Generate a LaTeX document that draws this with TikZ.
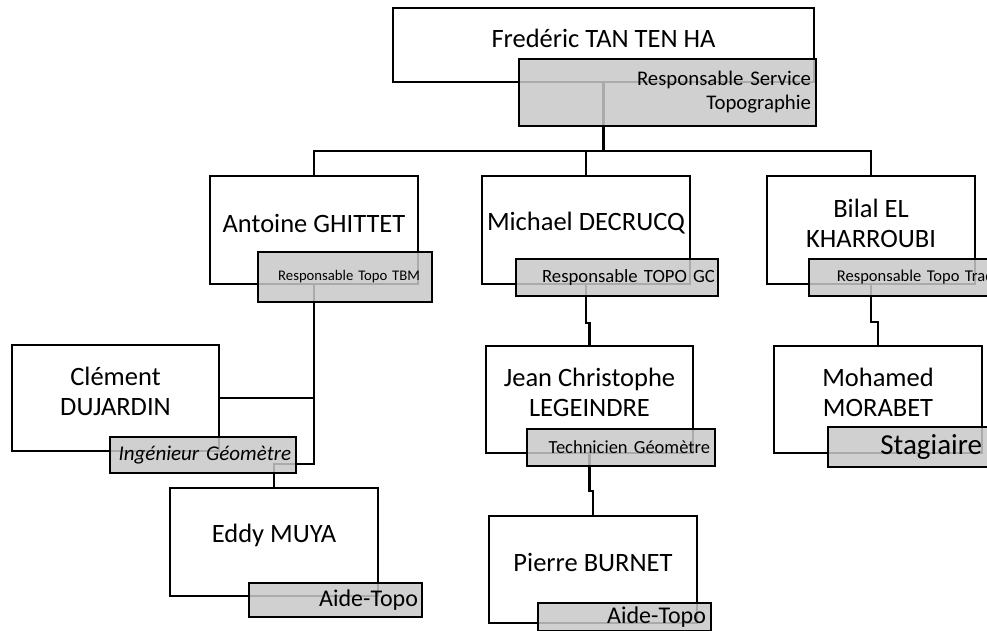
\documentclass[tikz,border=0pt]{standalone}
\usepackage{fontspec}
\setmainfont{Carlito}
\usetikzlibrary{positioning}
\definecolor{rolegrey}{RGB}{200,200,200}

\begin{document}
\begin{tikzpicture}[x=1pt, y=-1pt,
    namebox/.style={rectangle, draw, line width=2.2pt, minimum width=208pt, minimum height=108pt},
    nametext/.style={align=center, yshift=7pt, font=\fontsize{26.5}{30}\selectfont},
    rolebox/.style={rectangle, draw, line width=2.2pt, fill=rolegrey, fill opacity=0.85, text opacity=1, align=right, inner xsep=5pt, inner ysep=0pt},
    link/.style={line width=2.2pt}]
    \useasboundingbox (0,0) rectangle (987,630);
    \clip (0,0) rectangle (987,630);

    % name boxes
    \node [namebox, minimum width=421pt, minimum height=74pt, label={[name=fred-t, nametext]center:Fredéric TAN TEN HA}] (fred) at (603.5,45) {};
    \node [namebox, label={[name=antoine-t, nametext]center:Antoine GHITTET}] (antoine) at (314,230) {};
    \node [namebox, label={[name=michael-t, nametext]center:Michael DECRUCQ}] (michael) at (586,230) {};
    \node [namebox, label={[name=bilal-t, nametext]center:Bilal EL\\KHARROUBI}] (bilal) at (871,230) {};
    \node [namebox, minimum width=207pt, minimum height=106pt, label={[name=clement-t, nametext]center:Clément\\DUJARDIN}] (clement) at (115.5,398) {};
    \node [namebox, label={[name=eddy-t, nametext]center:Eddy MUYA}] (eddy) at (274,542) {};
    \node [namebox, minimum width=207pt, minimum height=107pt, label={[name=jean-t, nametext]center:Jean Christophe\\LEGEINDRE}] (jean) at (589.5,399.5) {};
    \node [namebox, minimum height=107pt, label={[name=pierre-t, nametext]center:Pierre BURNET}] (pierre) at (593,569.5) {};
    \node [namebox, minimum height=107pt, label={[name=mohamed-t, nametext]center:Mohamed\\MORABET}] (mohamed) at (878,399.5) {};

    % links
    \coordinate (bus) at (603.5,151);
    \draw[link] (fred.south) -- (bus);
    \draw[link] (antoine.north) |- (bus) -| (bilal.north);
    \draw[link] (michael.north) -- (michael.north |- bus);
    \draw[link] (michael.south) -- ++(0,38) -| (jean.north);
    \draw[link] (jean.south) -- ++(0,37) -| (pierre.north);
    \draw[link] (bilal.south) -- ++(0,37) -| (mohamed.north);
    \draw[link] (antoine.south) |- (clement.east);
    \draw[link] (antoine.south) -- ++(0,179) -| (eddy.north);

    % role boxes
    \node [rolebox, text width=287pt, minimum height=67pt, font=\fontsize{20.8}{24}\selectfont] (fred-r) at (667.5,92.5) {Responsable Service\\Topographie};
    \node [rolebox, inner xsep=12pt, text width=150pt, minimum height=50pt, font=\fontsize{14.7}{18}\selectfont] (antoine-r) at (345,277) {Responsable Topo TBM};
    \node [rolebox, inner xsep=3pt, text width=196pt, minimum height=37pt, font=\fontsize{18.7}{22}\selectfont] (michael-r) at (617,277.5) {Responsable TOPO GC};
    \node [rolebox, inner xsep=16pt, text width=169pt, minimum height=37pt, font=\fontsize{16.5}{20}\selectfont] (bilal-r) at (909.5,277.5) {Responsable Topo Trad};
    \node [rolebox, text width=176pt, minimum height=36pt, font=\itshape\fontsize{21}{24}\selectfont] (clement-r) at (203,455) {Ingénieur Géomètre};
    \node [rolebox, inner xsep=4pt, text width=165pt, minimum height=34pt, font=\fontsize{24}{27}\selectfont] (eddy-r) at (335.5,600) {Aide-Topo};
    \node [rolebox, text width=178pt, minimum height=37pt, font=\fontsize{18.5}{21}\selectfont] (jean-r) at (621,447.5) {Technicien Géomètre};
    \node [rolebox, text width=163pt, minimum height=28pt, font=\fontsize{24}{27}\selectfont] (pierre-r) at (624.5,617) {Aide-Topo};
    \node [rolebox, inner xsep=18pt, text width=136pt, minimum height=40pt, font=\fontsize{29}{32}\selectfont] (mohamed-r) at (914,447) {Stagiaire};
\end{tikzpicture}
\end{document}
